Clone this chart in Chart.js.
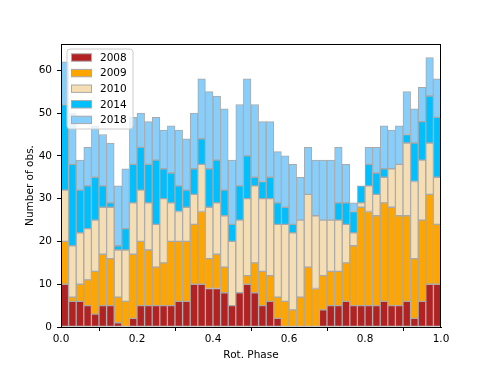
<!DOCTYPE html>
<html>
<head>
<meta charset="utf-8">
<script src="https://cdn.jsdelivr.net/npm/chart.js@4.4.0/dist/chart.umd.min.js"></script>
<style>
  html, body { margin: 0; padding: 0; background: #fff; }
  #wrap { width: 490px; height: 368px; }
</style>
</head>
<body>
<div id="wrap"><canvas id="chartPhase" width="490" height="368"></canvas></div>
<script>
// bin centres of the phase histogram (width 0.02)
var binCenters = [];
for (var i = 0; i < 50; i++) {
    binCenters.push(0.01 + i * 0.02);
}

var years = ['2008', '2009', '2010', '2014', '2018'];

var obs2008 = [10, 6, 6, 5, 3, 5, 5, 1, 0, 2, 5, 5, 5, 5, 5, 6, 6, 10, 10, 9, 9, 8, 5, 8, 10, 8, 5, 6, 2, 0, 0, 0, 0, 0, 4, 5, 5, 6, 5, 5, 5, 5, 6, 5, 5, 6, 2, 6, 10, 10];
var obs2009 = [10, 1, 4, 6, 10, 12, 11, 6, 6, 15, 15, 13, 9, 10, 15, 14, 14, 14, 17, 7, 8, 6, 0, 0, 2, 7, 8, 6, 5, 6, 4, 7, 14, 9, 8, 8, 8, 9, 14, 23, 22, 21, 23, 23, 21, 20, 14, 19, 21, 14];
var obs2010 = [12, 12, 12, 12, 12, 11, 12, 11, 12, 12, 12, 11, 10, 15, 9, 7, 8, 7, 11, 12, 12, 12, 15, 17, 18, 18, 17, 18, 17, 18, 18, 18, 17, 17, 13, 12, 12, 9, 3, 1, 6, 5, 6, 9, 12, 17, 18, 14, 12, 11];
var obs2014 = [20, 19, 10, 10, 10, 5, 1, 1, 5, 9, 10, 9, 15, 7, 7, 6, 4, 6, 6, 9, 10, 6, 4, 8, 10, 2, 4, 5, 5, 4, 2, 0, 0, 0, 0, 0, 4, 5, 5, 4, 5, 5, 2, 0, 0, 2, 9, 9, 11, 14];
var obs2018 = [10, 12, 7, 9, 12, 12, 14, 14, 14, 11, 8, 10, 10, 9, 11, 13, 12, 13, 14, 18, 15, 19, 15, 19, 18, 17, 14, 13, 12, 12, 14, 10, 11, 13, 14, 14, 13, 9, 2, 0, 4, 6, 10, 9, 9, 10, 8, 8, 9, 9];

var xTicks = [0, 0.2, 0.4, 0.6, 0.8, 1.0];
var yTicks = [0, 10, 20, 30, 40, 50, 60];

var colors = ['#b22222', '#ffa500', '#f5deb3', '#00bfff', '#87cefa'];
var series = [obs2008, obs2009, obs2010, obs2014, obs2018];

function toPoints(values) {
    var pts = [];
    for (var i = 0; i < values.length; i++) {
        pts.push({ x: binCenters[i], y: values[i] });
    }
    return pts;
}

var datasets = [];
for (var k = 0; k < years.length; k++) {
    datasets.push({
        label: years[k],
        data: toPoints(series[k]),
        backgroundColor: colors[k],
        borderColor: '#a9a9a9',
        borderWidth: 1,
        borderSkipped: false,
        categoryPercentage: 1.0,
        barPercentage: 1.0
    });
}

var fontFamily = 'DejaVu Sans';

// full box around the axes, like matplotlib spines
var frame = {
    id: 'frame',
    afterDatasetsDraw: function(chart) {
        var a = chart.chartArea;
        var ctx = chart.ctx;
        ctx.save();
        ctx.strokeStyle = '#000';
        ctx.lineWidth = 1;
        ctx.strokeRect(Math.round(a.left) + 0.5, Math.round(a.top) + 0.5,
                       Math.round(a.right - a.left) - 1, Math.round(a.bottom - a.top));
        ctx.restore();
    }
};

// legend drawn inside the plot, upper left
var innerLegend = {
    id: 'innerLegend',
    afterDraw: function(chart) {
        var ctx = chart.ctx;
        var bx = 67, by = 49, bw = 66, bh = 80, r = 3;
        ctx.save();
        ctx.beginPath();
        ctx.moveTo(bx + r, by);
        ctx.lineTo(bx + bw - r, by);
        ctx.quadraticCurveTo(bx + bw, by, bx + bw, by + r);
        ctx.lineTo(bx + bw, by + bh - r);
        ctx.quadraticCurveTo(bx + bw, by + bh, bx + bw - r, by + bh);
        ctx.lineTo(bx + r, by + bh);
        ctx.quadraticCurveTo(bx, by + bh, bx, by + bh - r);
        ctx.lineTo(bx, by + r);
        ctx.quadraticCurveTo(bx, by, bx + r, by);
        ctx.closePath();
        ctx.fillStyle = 'rgba(255,255,255,0.8)';
        ctx.fill();
        ctx.strokeStyle = '#cccccc';
        ctx.lineWidth = 1;
        ctx.stroke();

        ctx.font = '10.5px "' + fontFamily + '"';
        ctx.textBaseline = 'middle';
        ctx.textAlign = 'left';
        for (var i = 0; i < chart.data.datasets.length; i++) {
            var ds = chart.data.datasets[i];
            var cy = 57.5 + i * 15.6;
            ctx.fillStyle = ds.backgroundColor;
            ctx.fillRect(71, cy - 3.7, 21, 7.4);
            ctx.strokeStyle = ds.borderColor;
            ctx.strokeRect(71.5, cy - 3.7, 20, 7.4);
            ctx.fillStyle = '#000';
            ctx.fillText(ds.label, 100, cy + 0.5);
        }
        ctx.restore();
    }
};

var ctx = document.getElementById('chartPhase');
var chartPhase = new Chart(ctx, {
    type: 'bar',
    data: { datasets: datasets },
    options: {
        responsive: false,
        animation: false,
        layout: { padding: { top: 44, right: 49, left: 0, bottom: 0 } },
        plugins: {
            legend: { display: false },
            tooltip: { enabled: false }
        },
        scales: {
            x: {
                type: 'linear',
                stacked: true,
                offset: false,
                min: 0,
                max: 1,
                afterBuildTicks: function(scale) {
                    scale.ticks = xTicks.map(function(v) { return { value: v }; });
                },
                afterFit: function(scale) { scale.height = 41; },
                ticks: {
                    color: '#000',
                    padding: 2,
                    maxRotation: 0,
                    font: { family: fontFamily, size: 10.5 },
                    callback: function(v) { return Number(v).toFixed(1); }
                },
                grid: { drawOnChartArea: false, drawTicks: true, tickLength: 4, color: '#000' },
                border: { display: true, color: '#000', width: 1 },
                title: {
                    display: true,
                    text: 'Rot. Phase',
                    color: '#000',
                    font: { family: fontFamily, size: 10.5 },
                    padding: { top: 0, bottom: 6 }
                }
            },
            y: {
                stacked: true,
                min: 0,
                max: 66.15,
                afterBuildTicks: function(scale) {
                    scale.ticks = yTicks.map(function(v) { return { value: v }; });
                },
                afterFit: function(scale) { scale.width = 61; },
                ticks: {
                    color: '#000',
                    padding: 5,
                    font: { family: fontFamily, size: 10.5 }
                },
                grid: { drawOnChartArea: false, drawTicks: true, tickLength: 4, color: '#000' },
                border: { display: true, color: '#000', width: 1 },
                title: {
                    display: true,
                    text: 'Number of obs.',
                    color: '#000',
                    font: { family: fontFamily, size: 10.5 },
                    padding: { top: 24, bottom: 0 }
                }
            }
        }
    },
    plugins: [frame, innerLegend]
});
</script>
</body>
</html>
